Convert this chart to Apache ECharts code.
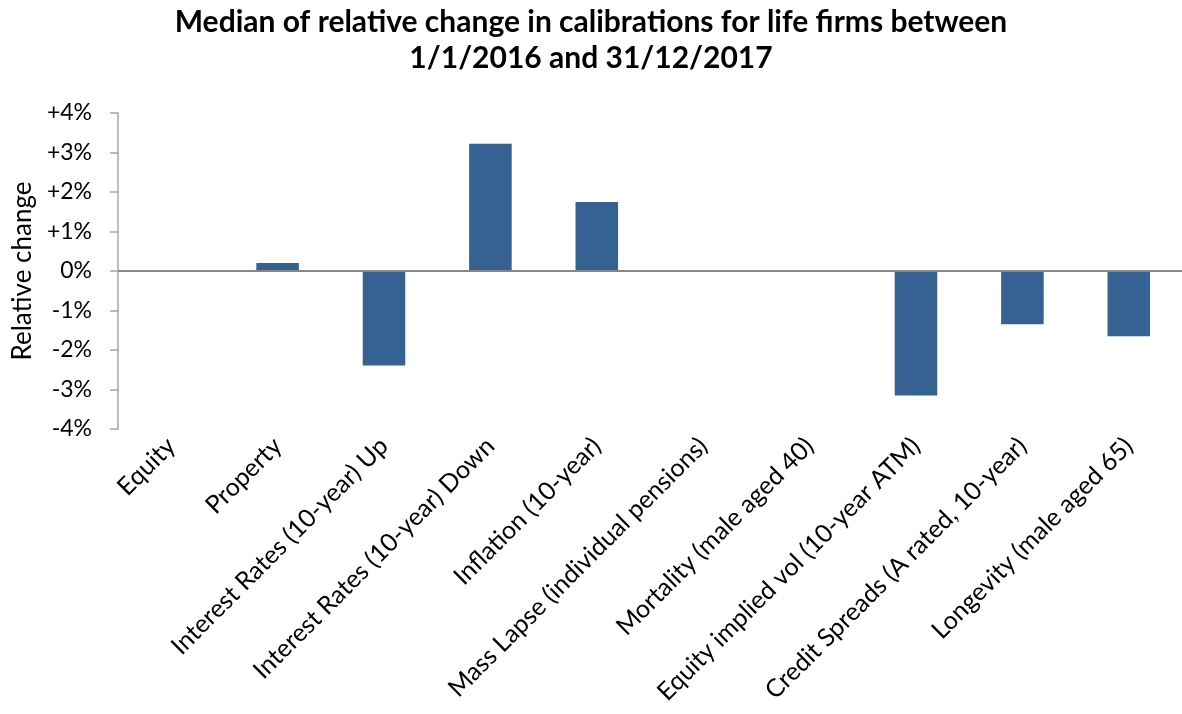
<!DOCTYPE html>
<html>
<head>
<meta charset="utf-8">
<style>
  html, body { margin: 0; padding: 0; background: #fff; }
  #chart { width: 1182px; height: 714px; }
</style>
<script src="https://cdn.jsdelivr.net/npm/echarts@6/dist/echarts.min.js"></script>
</head>
<body>
<div id="chart"></div>
<script>
const categories = [
  "Equity",
  "Property",
  "Interest Rates (10-year) Up",
  "Interest Rates (10-year) Down",
  "Inflation (10-year)",
  "Mass Lapse (individual pensions)",
  "Mortality (male aged 40)",
  "Equity implied vol (10-year ATM)",
  "Credit Spreads (A rated, 10-year)",
  "Longevity (male aged 65)",
];
// median relative change, in percent
const medianChange = [0, 0.2, -2.39, 3.22, 1.75, 0, 0, -3.15, -1.35, -1.65];

const FONT = "Lato";
const chart = echarts.init(document.getElementById("chart"));

chart.setOption({
  animation: false,
  title: {
    text: "Median of relative change in calibrations for life firms between\n1/1/2016 and 31/12/2017",
    left: "center",
    top: 4,
    padding: 0,
    textStyle: {
      fontFamily: FONT,
      fontWeight: "bold",
      fontSize: 30,
      lineHeight: 36,
      color: "#000",
    },
  },
  grid: { left: 118, top: 113, width: 1070, bottom: 285 },
  xAxis: {
    type: "category",
    data: categories,
    axisLine: { show: false },
    axisTick: { show: false },
    axisLabel: {
      interval: 0,
      rotate: 45,
      margin: 13,
      fontFamily: FONT,
      fontSize: 25,
      color: "#000",
    },
  },
  yAxis: {
    type: "value",
    min: -4,
    max: 4,
    interval: 1,
    name: "Relative change",
    nameLocation: "middle",
    nameGap: 80,
    nameTextStyle: { fontFamily: FONT, fontSize: 26, color: "#000" },
    axisLine: { show: true, lineStyle: { color: "#a6a6a6", width: 1.5 } },
    axisTick: { show: true, length: 8, lineStyle: { color: "#a6a6a6", width: 1.5 } },
    splitLine: { show: false },
    axisLabel: {
      margin: 26,
      fontFamily: FONT,
      fontSize: 23,
      color: "#000",
      formatter: (v) => (v > 0 ? "+" + v + "%" : v + "%"),
    },
  },
  series: [
    {
      type: "bar",
      data: medianChange,
      barWidth: "40%",
      itemStyle: { color: "#356193" },
      markLine: {
        silent: true,
        symbol: "none",
        label: { show: false },
        lineStyle: { color: "#868686", width: 2, type: "solid" },
        data: [{ yAxis: 0 }],
      },
    },
  ],
});
</script>
</body>
</html>
